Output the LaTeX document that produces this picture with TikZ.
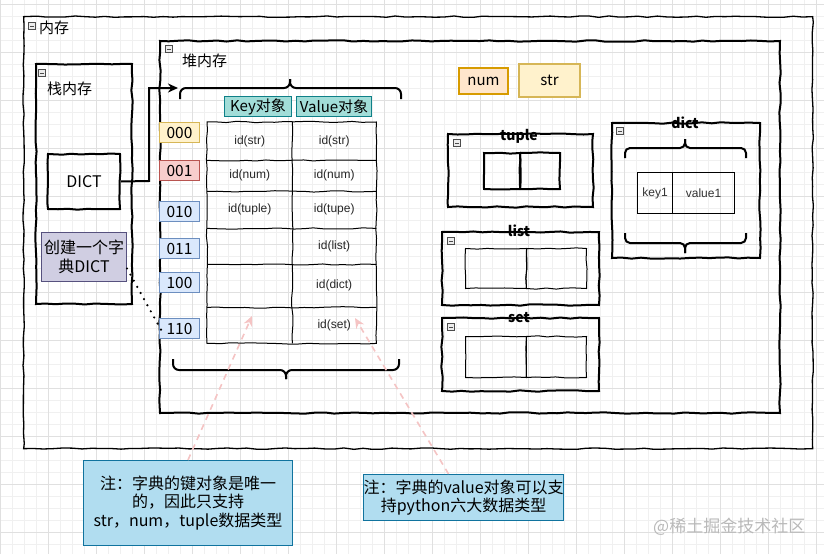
\documentclass[tikz,border=0pt]{standalone}
\usepackage{fontspec}
\setmainfont{Noto Sans CJK SC}
\newfontfamily\arialf{Liberation Sans}
\usetikzlibrary{decorations.pathmorphing,arrows.meta}
\definecolor{gridmin}{HTML}{F0F0F0}
\definecolor{gridmaj}{HTML}{E0E0E0}
\definecolor{yelF}{HTML}{FFF2CC}\definecolor{yelD}{HTML}{D6B656}
\definecolor{redF}{HTML}{F8CECC}\definecolor{redD}{HTML}{B85450}
\definecolor{bluF}{HTML}{DAE8FC}\definecolor{bluD}{HTML}{6C8EBF}
\definecolor{orgF}{HTML}{FFE6CC}\definecolor{orgD}{HTML}{D79B00}
\definecolor{tealF}{HTML}{A2DDD8}\definecolor{tealD}{HTML}{0E8088}
\definecolor{purF}{HTML}{D0CEE2}\definecolor{purD}{HTML}{56517E}
\definecolor{noteF}{HTML}{B1DDF0}\definecolor{noteD}{HTML}{10739E}
\definecolor{pinkA}{HTML}{F5C4C4}
\begin{document}
\begin{tikzpicture}[x=1pt,y=-1pt,
  sk/.style={decorate,decoration={random steps,segment length=9.7pt,amplitude=0.7pt}},
  cont/.style={draw,line width=2pt,sk,anchor=north west,inner sep=0pt},
  thinbox/.style={draw,line width=1pt,sk,anchor=north west,inner sep=0pt},
  minus/.style={draw=gray!60!black,fill=gray!15,line width=0.6pt,minimum size=7pt,inner sep=0pt,
    path picture={\draw[line width=0.7pt] ([xshift=1.5pt]path picture bounding box.west) -- ([xshift=-1.5pt]path picture bounding box.east);}},
  ttl/.style={anchor=west,inner sep=0pt,font=\fontsize{15}{18}\selectfont},
  btitle/.style={inner sep=0pt,font=\fontsize{14}{16}\selectfont\bfseries},
  addr/.style={anchor=north west,inner sep=0pt,line width=1pt,font=\fontsize{15.5}{17}\selectfont},
  hdr/.style={anchor=north west,inner sep=0pt,line width=1pt,fill=tealF,draw=tealD,minimum height=20pt,font=\fontsize{15}{17}\selectfont},
  cell/.style={anchor=north west,inner sep=0pt,font=\arialf\fontsize{12}{14}\selectfont,text=black!85},
  tline/.style={line width=1pt,sk},
  brace/.style={line width=2pt,rounded corners=6pt},
  note/.style={anchor=north west,inner sep=0pt,fill=noteF,draw=noteD,line width=1pt,align=center,font=\fontsize{16}{18.5}\selectfont},
  pinkarrow/.style={draw=pinkA,line width=1.6pt,dash pattern=on 6pt off 5pt,-{Stealth[length=10pt,width=9pt,fill=pinkA]}}
]
\pgfmathsetseed{7}
\useasboundingbox (0,0) rectangle (824,554);
\fill[white] (0,0) rectangle (824,554);
% grid
\foreach \x in {0,12,...,824} \draw[gridmin,line width=0.6pt] (\x,0) -- (\x,554);
\foreach \y in {4,16,...,554} \draw[gridmin,line width=0.6pt] (0,\y) -- (824,\y);
\foreach \x in {0,48,...,816} \draw[gridmaj,line width=0.8pt] (\x,0) -- (\x,554);
\foreach \y in {4,52,...,532} \draw[gridmaj,line width=0.8pt] (0,\y) -- (824,\y);

% containers
\node[cont,line width=1.3pt,minimum width=789pt,minimum height=432pt] (mem) at (23,16) {};
\node[minus] (m0) at (32,26) {};
\node[ttl] (memt) at (39,28) {内存};

\node[cont,minimum width=620pt,minimum height=372pt] (heap) at (159,40) {};
\node[minus] (m1) at (169,49) {};
\node[ttl] (heapt) at (182,61) {堆内存};

\node[cont,minimum width=96pt,minimum height=240pt] (stack) at (35,63) {};
\node[minus] (m2) at (42,73) {};
\node[ttl] (stackt) at (47,89) {栈内存};

\node[cont,minimum width=72pt,minimum height=55pt,font=\fontsize{16}{18}\selectfont] (dict) at (47,153) {DICT};
\node[anchor=north west,inner sep=0pt,fill=purF,draw=purD,line width=1pt,minimum width=85pt,minimum height=49pt,align=center,font=\fontsize{16}{19}\selectfont] (purple) at (41,232) {创建一个字\\典DICT};

% top brace and arrow
\coordinate (tip) at (178,88);
\draw[line width=2pt,-{Stealth[length=10pt,width=9pt]}] (dict.east) -- (149,181) -- (149,88) -- (tip);
\draw[brace] (180,99) -- (180,88) -- (290,88) -- (290,79);
\draw[brace] (401,99) -- (401,88) -- (290,88) -- (290,79);

% headers
\node[hdr,minimum width=67pt] (kh) at (224,96) {Key对象};
\node[hdr,minimum width=75pt] (vh) at (296,96) {Value对象};

% address labels
\node[addr,fill=yelF,draw=yelD,minimum width=40pt,minimum height=20pt] (a000) at (159,122) {000};
\node[addr,fill=redF,draw=redD,minimum width=40pt,minimum height=20pt] (a001) at (159,160) {001};
\node[addr,fill=bluF,draw=bluD,minimum width=40pt,minimum height=20pt] (a010) at (159,201) {010};
\node[addr,fill=bluF,draw=bluD,minimum width=40pt,minimum height=20pt] (a011) at (159,238) {011};
\node[addr,fill=bluF,draw=bluD,minimum width=40pt,minimum height=20pt] (a100) at (159,272) {100};
\node[addr,fill=bluF,draw=bluD,minimum width=40pt,minimum height=20pt] (a110) at (159,318) {110};

% table cells
\node[cell,minimum width=85pt,minimum height=38pt] (k1) at (207,122) {id(str)};
\node[cell,minimum width=84pt,minimum height=38pt] (v1) at (292,122) {id(str)};
\node[cell,minimum width=85pt,minimum height=31pt] (k2) at (207,160) {id(num)};
\node[cell,minimum width=84pt,minimum height=31pt] (v2) at (292,160) {id(num)};
\node[cell,minimum width=85pt,minimum height=37pt] (k3) at (207,191) {id(tuple)};
\node[cell,minimum width=84pt,minimum height=37pt] (v3) at (292,191) {id(tupe)};
\node[cell,minimum width=85pt,minimum height=36pt] (k4) at (207,228) {};
\node[cell,minimum width=84pt,minimum height=36pt] (v4) at (292,228) {id(list)};
\node[cell,minimum width=85pt,minimum height=43pt] (k5) at (207,264) {};
\node[cell,minimum width=84pt,minimum height=43pt] (v5) at (292,264) {id(dict)};
\node[cell,minimum width=85pt,minimum height=36pt] (k6) at (207,307) {};
\node[cell,minimum width=84pt,minimum height=36pt] (v6) at (292,307) {id(set)};
\draw[tline] (k1.north west) -- (v1.north east) -- (v6.south east) -- (k6.south west) -- cycle;
\draw[tline] (k1.north east) -- (k6.south east);
\foreach \r in {1,...,5} \draw[tline] (k\r.south west) -- (v\r.south east);

% bottom brace
\draw[brace] (173,359) -- (173,370) -- (286,370) -- (286,379);
\draw[brace] (399,359) -- (399,370) -- (286,370) -- (286,379);

% num / str
\node[anchor=north west,inner sep=0pt,fill=orgF,draw=orgD,line width=2pt,minimum width=49pt,minimum height=26pt,font=\fontsize{15}{17}\selectfont] (num) at (458,67) {num};
\node[anchor=north west,inner sep=0pt,fill=yelF,draw=yelD,line width=2pt,minimum width=61pt,minimum height=33pt,font=\fontsize{15}{17}\selectfont] (str) at (518,63) {str};

% tuple
\node[cont,minimum width=145pt,minimum height=73pt] (tuple) at (447,133) {};
\node[minus] (m3) at (457,143) {};
\node[btitle] (tuplet) at (519,136) {tuple};
\node[cont,minimum width=36pt,minimum height=36pt] (t1) at (483,152) {};
\node[cont,minimum width=40pt,minimum height=36pt] (t2) at (519,152) {};

% dict container
\node[cont,minimum width=148pt,minimum height=135pt] (dictc) at (611,122) {};
\node[minus] (m4) at (620,131) {};
\node[btitle] (dictt) at (685,123) {dict};
\draw[brace,rounded corners=5pt] (625,158) -- (625,148) -- (685,148) -- (685,139);
\draw[brace,rounded corners=5pt] (746,158) -- (746,148) -- (685,148) -- (685,139);
\draw[brace,rounded corners=5pt] (625,233) -- (625,243) -- (685,243) -- (685,253);
\draw[brace,rounded corners=5pt] (746,233) -- (746,243) -- (685,243) -- (685,253);
\node[anchor=north west,inner sep=0pt,draw,line width=1pt,minimum width=35pt,minimum height=41pt,font=\arialf\fontsize{12}{14}\selectfont,text=black!80] (d1) at (637,172) {key1};
\node[anchor=north west,inner sep=0pt,draw,line width=1pt,minimum width=62pt,minimum height=41pt,font=\arialf\fontsize{12}{14}\selectfont,text=black!80] (d2) at (672,172) {value1};

% list
\node[cont,minimum width=157pt,minimum height=73pt] (list) at (441,231) {};
\node[minus] (m5) at (451,241) {};
\node[btitle] (listt) at (519,231) {list};
\node[thinbox,minimum width=61pt,minimum height=40pt] (l1) at (465,248) {};
\node[thinbox,minimum width=60pt,minimum height=40pt] (l2) at (526,248) {};

% set
\node[cont,minimum width=157pt,minimum height=73pt] (set) at (441,317) {};
\node[minus] (m6) at (451,327) {};
\node[btitle] (sett) at (519,318) {set};
\node[thinbox,minimum width=61pt,minimum height=41pt] (s1) at (465,336) {};
\node[thinbox,minimum width=60pt,minimum height=41pt] (s2) at (526,336) {};

% dotted connector
\draw[line width=2.4pt,line cap=round,dash pattern=on 0pt off 7pt] ([yshift=-11.5pt]purple.east) -- ([xshift=3pt,yshift=-3pt]a110.west);

% notes
\node[note,minimum width=209pt,minimum height=85pt] (note1) at (83,460) {注：字典的键对象是唯一\\的，因此只支持\\str，num，tuple数据类型};
\node[note,minimum width=200pt,minimum height=46pt] (note2) at (363,474) {注：字典的value对象可以支\\持python六大数据类型};
\coordinate (p1) at (252,316);
\coordinate (p2) at (355,318);
\draw[pinkarrow] (note1.north) -- (p1);
\draw[pinkarrow] ([xshift=-15pt]note2.north) -- (p2);

% watermark
\node[anchor=west,inner sep=0pt,text=gray!55,font=\fontsize{17}{19}\selectfont] (wm) at (653,527) {@稀土掘金技术社区};
\end{tikzpicture}
\end{document}
